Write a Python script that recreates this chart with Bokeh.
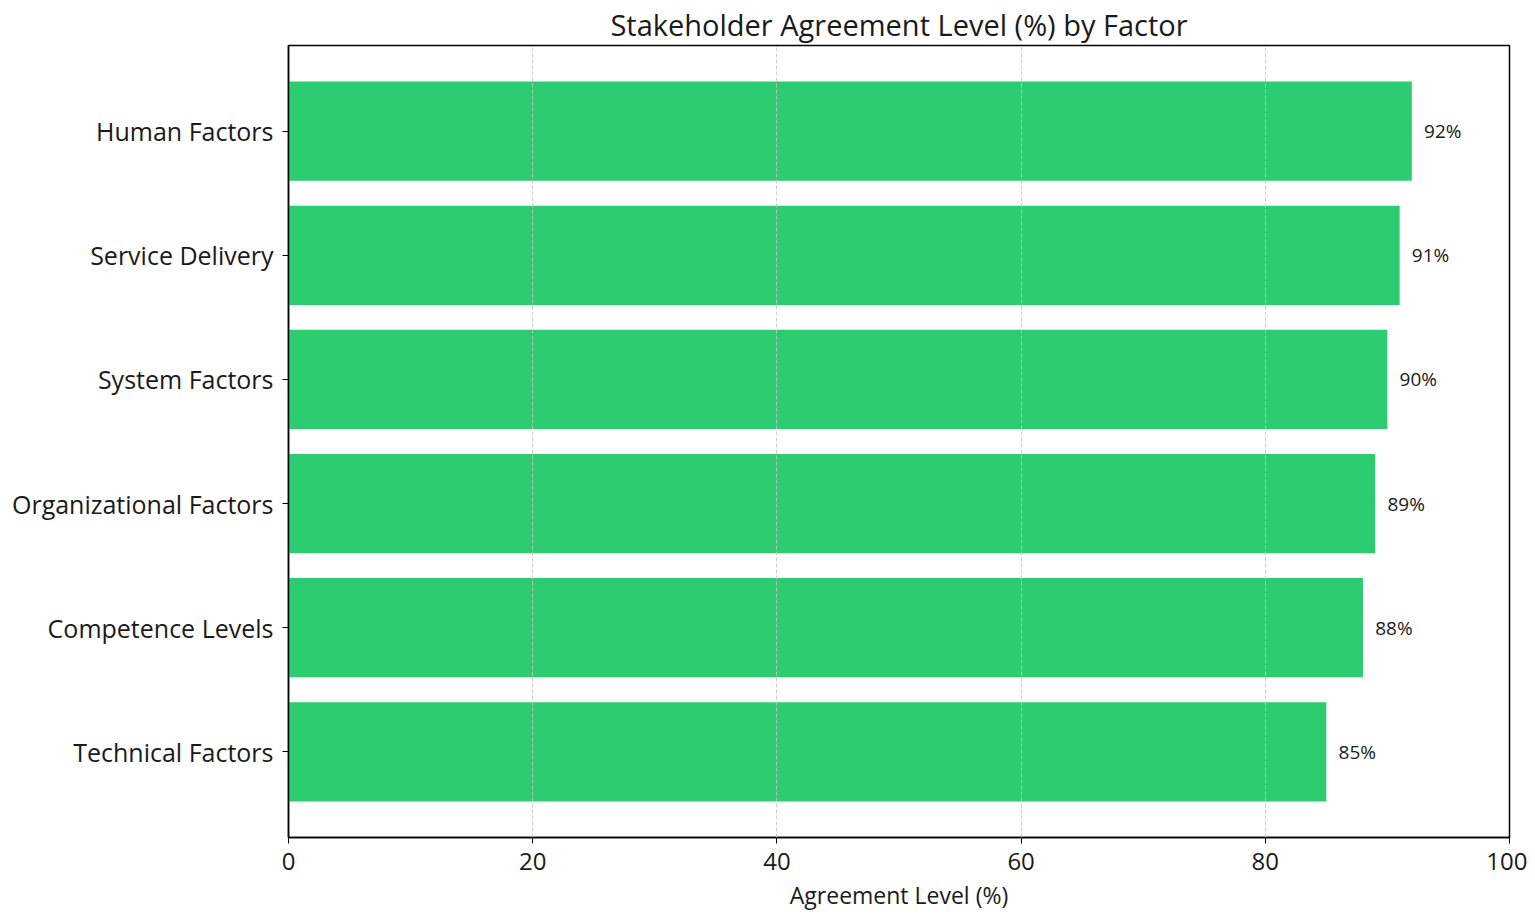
from bokeh.plotting import figure
from bokeh.models import Range1d, FixedTicker, ColumnDataSource
from bokeh.embed import file_html
from bokeh.resources import INLINE

title_text = "Stakeholder Agreement Level (%) by Factor"
factors = ["Technical Factors", "Competence Levels", "Organizational Factors",
           "System Factors", "Service Delivery", "Human Factors"]
agreement = [85, 88, 89, 90, 91, 92]
x_ticks = [0, 20, 40, 60, 80, 100]

FONT = "Open Sans"
TXT = "#1a1a1a"
positions = list(range(len(factors)))
labels = [f"{v}%" for v in agreement]

src = ColumnDataSource(dict(y=positions, right=agreement,
                            tx=[v + 1 for v in agreement], label=labels))

p = figure(width=1527, height=906, output_backend="svg", toolbar_location=None,
           x_range=Range1d(0, 100), y_range=Range1d(-0.69, 5.69),
           frame_width=1221, frame_height=792,
           min_border_left=288, min_border_right=18,
           min_border_top=44, min_border_bottom=69,
           title=title_text)

p.hbar(y="y", right="right", left=0, height=0.8, source=src,
       fill_color="#2ecc71", line_color=None)
p.text(x="tx", y="y", text="label", source=src, text_align="left",
       text_baseline="middle", text_font_size="19px", text_color=TXT,
       text_font={"value": FONT})

p.title.align = "center"
p.title.text_font = FONT
p.title.text_font_size = "29px"
p.title.text_font_style = "normal"
p.title.text_color = TXT
p.title.offset = 0
p.title.standoff = 4

p.outline_line_color = "black"
p.outline_line_width = 1.5
p.outline_line_alpha = 1

p.xaxis.ticker = FixedTicker(ticks=x_ticks)
p.xaxis.axis_label = "Agreement Level (%)"
p.xaxis.axis_label_text_font = FONT
p.xaxis.axis_label_text_font_size = "23px"
p.xaxis.axis_label_text_font_style = "normal"
p.xaxis.axis_label_text_color = TXT
p.xaxis.axis_label_standoff = 6
p.yaxis.ticker = FixedTicker(ticks=positions)
p.yaxis.major_label_overrides = {i: f for i, f in enumerate(factors)}

for ax in (p.xaxis[0], p.yaxis[0]):
    ax.major_label_text_font = FONT
    ax.major_label_text_font_size = "24px"
    ax.major_label_text_color = TXT
    ax.axis_line_color = "black"
    ax.axis_line_width = 1.5
    ax.major_tick_line_color = "black"
    ax.major_tick_out = 6
    ax.major_tick_in = 0
    ax.minor_tick_line_color = None
p.yaxis.major_label_text_font_size = "25px"
p.xaxis.major_label_standoff = 9
p.yaxis.major_label_standoff = 9

p.ygrid.grid_line_color = None
p.xgrid.ticker = FixedTicker(ticks=x_ticks)
p.xgrid.grid_line_color = "#c4c4c4"
p.xgrid.grid_line_alpha = 0.85
p.xgrid.grid_line_dash = "4 2"
p.xgrid.level = "overlay"

open("out.html", "w").write(file_html(p, INLINE))
